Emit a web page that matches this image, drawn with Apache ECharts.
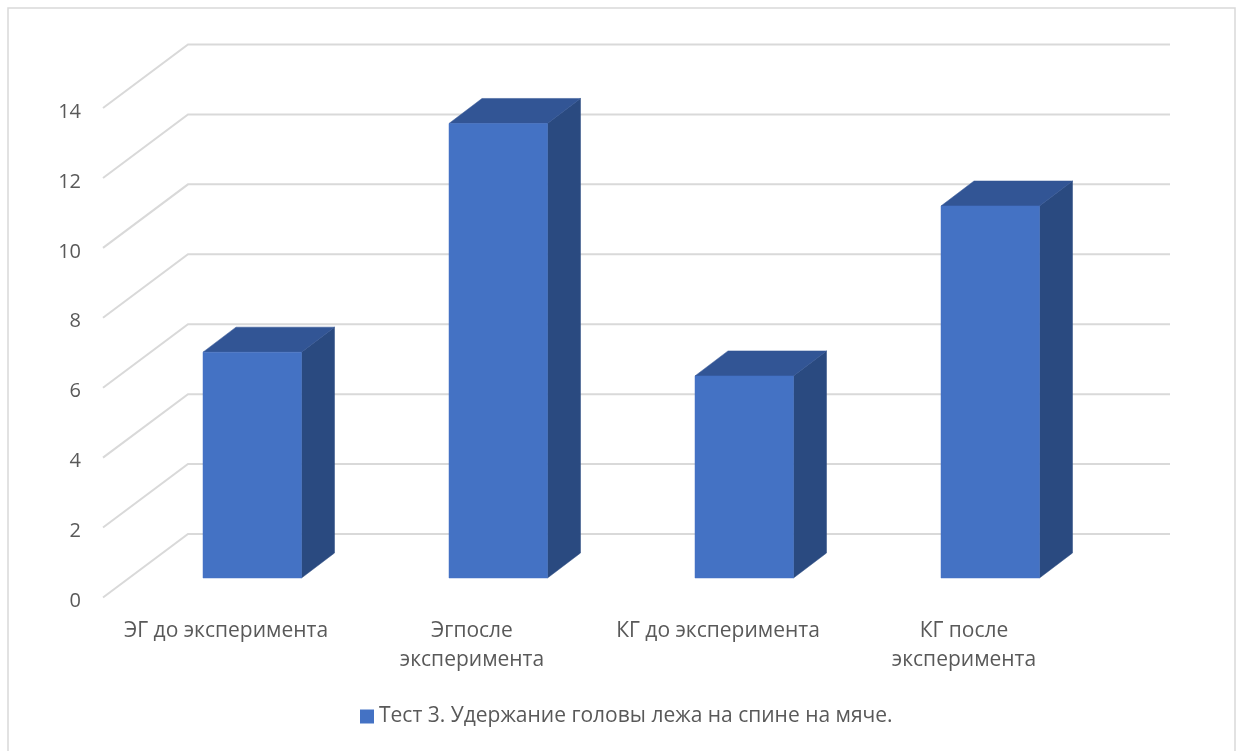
<!DOCTYPE html>
<html><head><meta charset="utf-8">
<style>html,body{margin:0;padding:0;background:#fff}#c{width:1239px;height:751px}</style>
<script src="https://cdn.jsdelivr.net/npm/echarts@6/dist/echarts.min.js"></script>
</head><body><div id="c"></div>
<script>
const categories = ['ЭГ до эксперимента', 'Эгпосле\nэксперимента', 'КГ до эксперимента', 'КГ после\nэксперимента'];
const values = [6.46, 13.0, 5.78, 10.64];
const yTicks = [0, 2, 4, 6, 8, 10, 12, 14];
const seriesName = 'Тест 3. Удержание головы лежа на спине на мяче.';

const FONT = '"Open Sans", sans-serif';
const TXT = '#595959';
const WALL_DX_L = 85, WALL_DX_R = 83, WALL_DY = 63.5;
const BAR_W = 98.5, BAR_OFF_X = 26.25, BAR_OFF_Y = 19.5, SIDE_DX = 33, SIDE_DY = 25;

const chart = echarts.init(document.getElementById('c'), null, {renderer: 'canvas'});
chart.setOption({
  animation: false,
  backgroundColor: '#fff',
  graphic: [{type: 'rect', silent: true, z: -1,
    shape: {x: 8, y: 8, width: 1227, height: 760},
    style: {fill: '#fff', stroke: '#d9d9d9', lineWidth: 1.5}}],
  grid: {left: 103, top: 108, width: 984, height: 489.5},
  legend: {
    show: true, data: [{name: seriesName, icon: 'rect'}],
    left: 355, top: 701, itemWidth: 14, itemHeight: 14, itemGap: 5,
    textStyle: {fontFamily: FONT, fontSize: 21, color: TXT, lineHeight: 14},
    selectedMode: false
  },
  xAxis: {
    type: 'category', data: categories,
    axisLine: {show: false}, axisTick: {show: false}, splitLine: {show: false},
    axisLabel: {interval: 0, fontFamily: FONT, fontSize: 21, color: TXT, lineHeight: 29, margin: 19}
  },
  yAxis: {
    type: 'value', min: 0, max: 14, interval: 2,
    axisLine: {show: false}, axisTick: {show: false}, splitLine: {show: false},
    axisLabel: {
      margin: 22, formatter: '{n|{value}}',
      rich: {n: {fontFamily: FONT, fontSize: 20, color: TXT, padding: [8, 0, 0, 0]}}
    }
  },
  series: [
    {
      type: 'custom', name: 'walls', silent: true, z: 1, clip: false,
      data: yTicks.map(v => [v]),
      encode: {y: 0},
      renderItem(params, api) {
        const cs = params.coordSys;
        const y = api.coord([0, api.value(0)])[1];
        return {type: 'polyline', silent: true,
          shape: {points: [[cs.x, y], [cs.x + WALL_DX_L, y - WALL_DY], [cs.x + cs.width + WALL_DX_R, y - WALL_DY]]},
          style: {fill: null, stroke: '#d9d9d9', lineWidth: 2}};
      }
    },
    {
      type: 'custom', name: seriesName, z: 2, clip: false,
      itemStyle: {color: '#4472C4'},
      data: values.map((v, i) => [i, v]),
      encode: {x: 0, y: 1},
      renderItem(params, api) {
        const base = api.coord([api.value(0), 0]);
        const top = api.coord([api.value(0), api.value(1)]);
        const x0 = base[0] + BAR_OFF_X - BAR_W / 2, x1 = x0 + BAR_W;
        const yb = base[1] - BAR_OFF_Y, yt = top[1] - BAR_OFF_Y;
        const poly = (pts, fill) => ({type: 'polygon', shape: {points: pts}, style: {fill, stroke: fill, lineWidth: 0.5}});
        return {type: 'group', children: [
          poly([[x1, yb], [x1 + SIDE_DX, yb - SIDE_DY], [x1 + SIDE_DX, yt - SIDE_DY], [x1, yt]], '#2a4a80'),
          poly([[x0, yt], [x0 + SIDE_DX, yt - SIDE_DY], [x1 + SIDE_DX, yt - SIDE_DY], [x1, yt]], '#325595'),
          poly([[x0, yb], [x1, yb], [x1, yt], [x0, yt]], '#4472C4')
        ]};
      }
    }
  ]
});
</script></body></html>
